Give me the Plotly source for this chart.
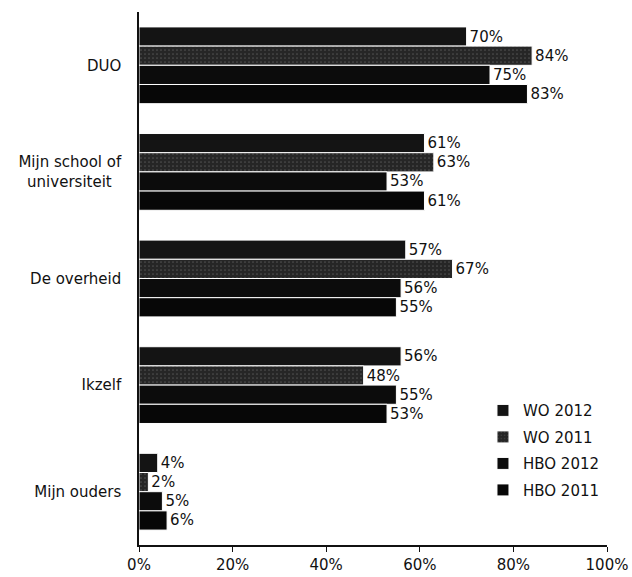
import plotly.graph_objects as go

categories = ["DUO", "Mijn school of<br>universiteit\u00a0\u00a0", "De overheid", "Ikzelf", "Mijn ouders"]
series_names = ["WO 2012", "WO 2011", "HBO 2012", "HBO 2011"]
wo_2012 = [70, 61, 57, 56, 4]
wo_2011 = [84, 63, 67, 48, 2]
hbo_2012 = [75, 53, 56, 55, 5]
hbo_2011 = [83, 61, 55, 53, 6]
x_ticks = [0, 20, 40, 60, 80, 100]

values = [wo_2012, wo_2011, hbo_2012, hbo_2011]
colors = ["#141414", "#262626", "#0c0c0c", "#070707"]
patterns = ["", ".", "", ""]

fig = go.Figure()
for name, vals, col, pat in zip(series_names, values, colors, patterns):
    fig.add_trace(go.Bar(
        name=name, y=categories, x=vals, orientation="h", legendgroup=name,
        marker=dict(color=col, line=dict(color="white", width=1),
                    pattern=dict(shape=pat, fgcolor="#777777", size=4, solidity=0.15) if pat else None),
        text=[f"{v}%" for v in vals], textposition="outside",
        textfont=dict(family="DejaVu Sans", size=15, color="#111"),
        cliponaxis=False,
    ))

fig.update_layout(
    width=632, height=577, barmode="group", bargap=0.28, bargroupgap=0,
    paper_bgcolor="white", plot_bgcolor="white",
    margin=dict(l=139, r=25, t=12, b=32),
    font=dict(family="DejaVu Sans", size=15, color="#111"),
    legend=dict(x=0.735, y=0.283, xanchor="left", yanchor="top",
                font=dict(size=15), traceorder="grouped", itemwidth=30,
                bgcolor="rgba(0,0,0,0)", tracegroupgap=4),
    xaxis=dict(range=[0, 100], tickvals=x_ticks, ticktext=[f"{t}%" for t in x_ticks],
               showgrid=False, zeroline=False, showline=True, linecolor="#111", linewidth=1.5,
               ticks="outside", ticklen=5, tickcolor="#111", automargin=False),
    yaxis=dict(autorange="reversed", showgrid=False, showline=True, linecolor="#111",
               linewidth=1.5, ticks="", ticklen=0, automargin=False, ticklabelstandoff=13),
)
fig.write_html("out.html", config={"displayModeBar": False},
               post_script="document.body.style.margin='0';document.body.style.overflow='hidden';")
